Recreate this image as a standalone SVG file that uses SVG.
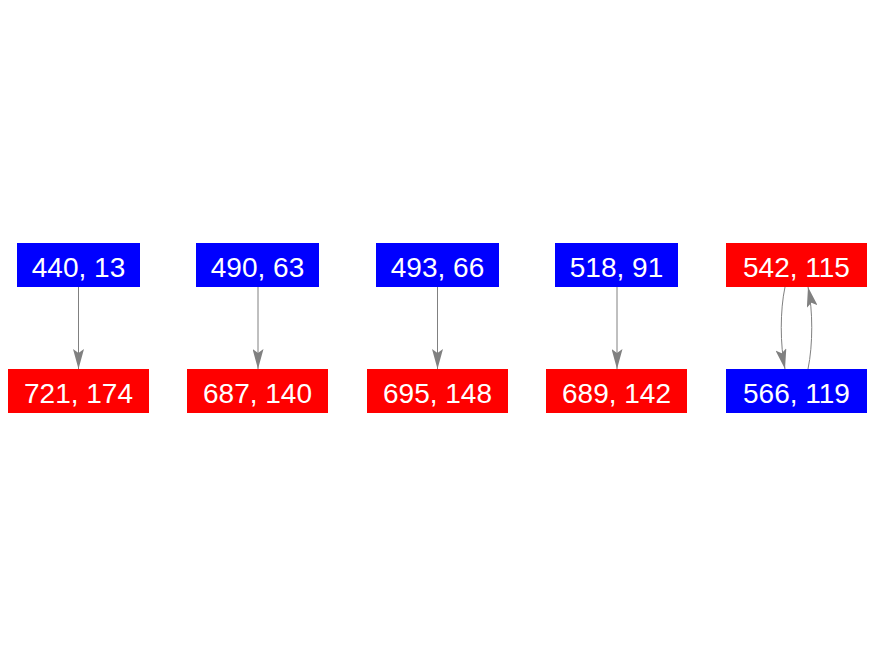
<svg xmlns="http://www.w3.org/2000/svg" width="875" height="656" viewBox="0 0 875 656">
<defs>
<style>
.blue{fill:#0000ff}
.red{fill:#ff0000}
text{font-family:"Liberation Sans",Arial,sans-serif;font-size:28px;fill:#ffffff;text-anchor:middle}
.e{fill:none;stroke:#808080;stroke-width:1}
</style>
<marker id="ah" viewBox="0 0 20 11" refX="20" refY="5.5" markerWidth="20" markerHeight="11" markerUnits="userSpaceOnUse" orient="auto">
<path d="M0,0 L20,5.5 L0,11 L4,5.5 Z" fill="#808080"/>
</marker>
</defs>
<rect width="875" height="656" fill="#ffffff"/>
<g id="edges">
<path class="e" d="M78.5,287 L78.5,369" marker-end="url(#ah)"/>
<path class="e" d="M258,287 L258,369" marker-end="url(#ah)"/>
<path class="e" d="M437.5,287 L437.5,369" marker-end="url(#ah)"/>
<path class="e" d="M617,287 L617,369" marker-end="url(#ah)"/>
<path class="e" d="M785,287 C780,310 780,345 785,369" marker-end="url(#ah)"/>
<path class="e" d="M808,369 C813,345 813,310 808,287" marker-end="url(#ah)"/>
</g>
<g id="n440"><rect class="blue" x="17" y="243" width="123" height="44"/><text x="78.5" y="277">440, 13</text></g>
<g id="n721"><rect class="red" x="8" y="369" width="141" height="44"/><text x="78.5" y="403">721, 174</text></g>
<g id="n490"><rect class="blue" x="196" y="243" width="123" height="44"/><text x="257.5" y="277">490, 63</text></g>
<g id="n687"><rect class="red" x="187" y="369" width="141" height="44"/><text x="257.5" y="403">687, 140</text></g>
<g id="n493"><rect class="blue" x="376" y="243" width="123" height="44"/><text x="437.5" y="277">493, 66</text></g>
<g id="n695"><rect class="red" x="367" y="369" width="141" height="44"/><text x="437.5" y="403">695, 148</text></g>
<g id="n518"><rect class="blue" x="555" y="243" width="123" height="44"/><text x="616.5" y="277">518, 91</text></g>
<g id="n689"><rect class="red" x="546" y="369" width="141" height="44"/><text x="616.5" y="403">689, 142</text></g>
<g id="n542"><rect class="red" x="726" y="243" width="141" height="44"/><text x="796.5" y="277">542, 115</text></g>
<g id="n566"><rect class="blue" x="726" y="369" width="141" height="44"/><text x="796.5" y="403">566, 119</text></g>
</svg>
